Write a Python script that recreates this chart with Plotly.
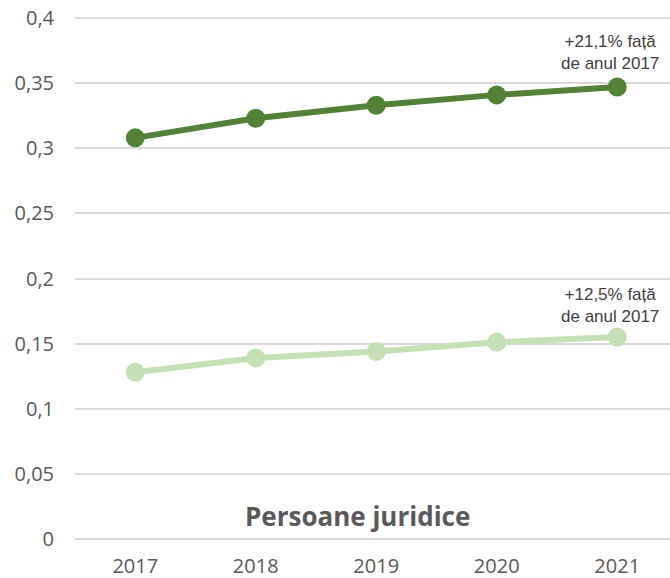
import plotly.graph_objects as go

years = ["2017", "2018", "2019", "2020", "2021"]
dark_values = [0.308, 0.323, 0.333, 0.341, 0.347]
light_values = [0.128, 0.139, 0.144, 0.151, 0.155]
y_ticks = [0, 0.05, 0.1, 0.15, 0.2, 0.25, 0.3, 0.35, 0.4]
y_tick_labels = ["0", "0,05", "0,1", "0,15", "0,2", "0,25", "0,3", "0,35", "0,4"]
note_dark = "+21,1% față<br>de anul 2017"
note_light = "+12,5% față<br>de anul 2017"
title_text = "Persoane juridice"

fig = go.Figure()
fig.add_trace(go.Scatter(
    x=list(range(len(years))), y=dark_values, mode="lines+markers",
    line=dict(color="#538135", width=6),
    marker=dict(color="#538135", size=19),
    showlegend=False, cliponaxis=False))
fig.add_trace(go.Scatter(
    x=list(range(len(years))), y=light_values, mode="lines+markers",
    line=dict(color="#C5E0B4", width=6),
    marker=dict(color="#C5E0B4", size=19),
    showlegend=False, cliponaxis=False))

fig.add_annotation(x=4, y=dark_values[-1], text=note_dark, showarrow=False,
                   xref="x", yref="y", xanchor="center", yanchor="bottom", yshift=12, xshift=-7,
                   align="center",
                   font=dict(family="Liberation Sans, Arial", size=17, color="#404040"))
fig.add_annotation(x=4, y=light_values[-1], text=note_light, showarrow=False,
                   xref="x", yref="y", xanchor="center", yanchor="bottom", yshift=9, xshift=-7,
                   align="center",
                   font=dict(family="Liberation Sans, Arial", size=17, color="#404040"))
fig.add_annotation(x=0.474, y=0.0, xref="paper", yref="paper", text="<b>" + title_text + "</b>",
                   showarrow=False, xanchor="center", yanchor="bottom", yshift=4,
                   font=dict(family="Open Sans", size=26, color="#595959"))

fig.update_layout(
    width=670, height=578,
    margin=dict(l=75, r=0, t=17, b=38),
    paper_bgcolor="white", plot_bgcolor="white",
    font=dict(family="Open Sans", size=20, color="#595959"),
    xaxis=dict(range=[-0.5, 4.438], tickmode="array",
               tickvals=list(range(len(years))), ticktext=years,
               showgrid=False, zeroline=False, showline=False, automargin=False,
               ticks="", ticklabelstandoff=12, ticklabeloverflow="allow",
               tickfont=dict(family="Open Sans", size=20, color="#595959")),
    yaxis=dict(range=[-0.0008, 0.4008], tickmode="array", tickvals=y_ticks, ticktext=y_tick_labels,
               showgrid=True, gridcolor="#D9D9D9", gridwidth=2, zeroline=False,
               showline=False, ticks="", ticklabelstandoff=20, automargin=False,
               ticklabeloverflow="allow",
               tickfont=dict(family="Open Sans", size=20, color="#595959")),
)

fig.write_html("out.html", config={"displayModeBar": False},
               post_script="document.body.style.margin='0';document.body.style.overflow='hidden';")
